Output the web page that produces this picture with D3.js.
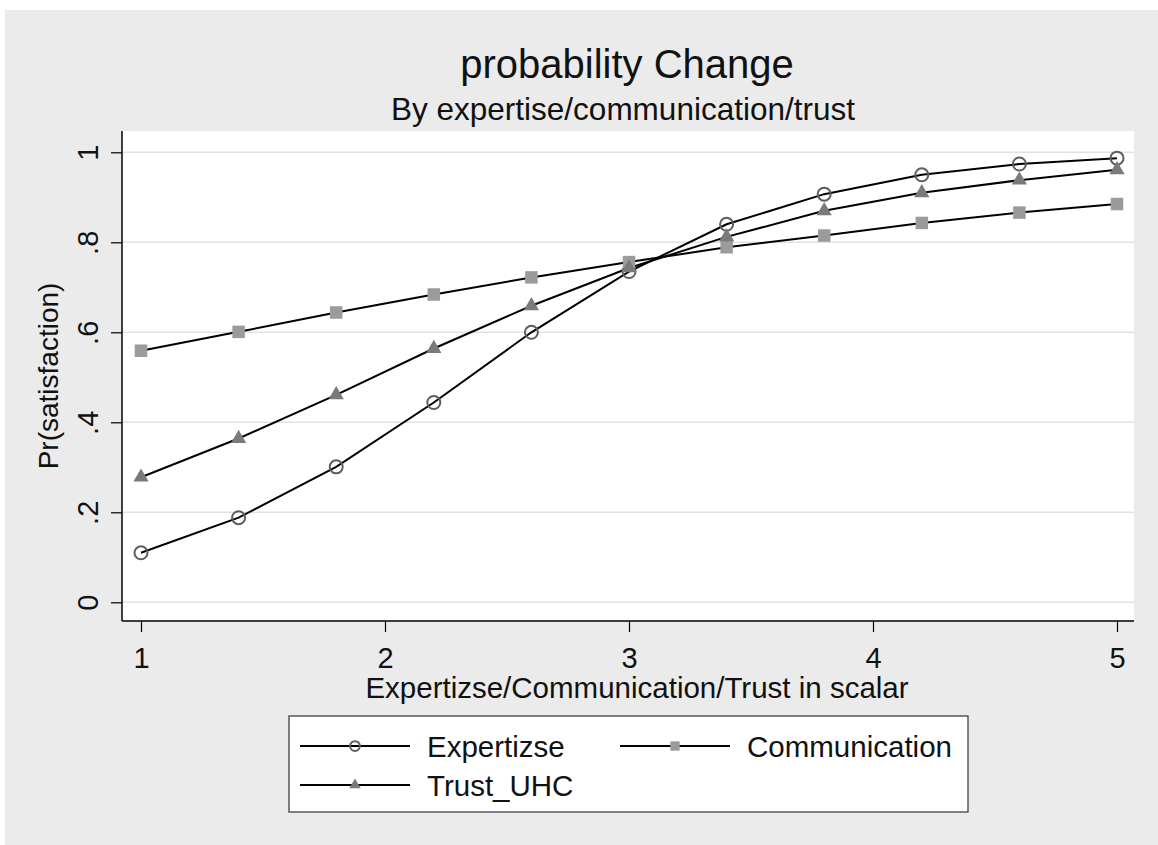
<!DOCTYPE html>
<html><head><meta charset="utf-8">
<script src="https://cdn.jsdelivr.net/npm/d3@7"></script>
<style>html,body{margin:0;padding:0;background:#fff;}svg{display:block;font-family:"Liberation Sans",Arial,sans-serif;}</style>
</head><body>
<script>
const xValues = [1, 1.4, 1.8, 2.2, 2.6, 3.0, 3.4, 3.8, 4.2, 4.6, 5.0];
const expertise = [0.110, 0.188, 0.301, 0.444, 0.600, 0.735, 0.840, 0.907, 0.950, 0.974, 0.987];
const communication = [0.559, 0.601, 0.644, 0.684, 0.722, 0.756, 0.789, 0.815, 0.843, 0.866, 0.885];
const trust = [0.278, 0.364, 0.461, 0.564, 0.659, 0.743, 0.812, 0.870, 0.910, 0.938, 0.961];
const xTicks = [1, 2, 3, 4, 5];
const yTicks = [0, 0.2, 0.4, 0.6, 0.8, 1];
const yTickLabels = ["0", ".2", ".4", ".6", ".8", "1"];
const seriesNames = ["Expertizse", "Communication", "Trust_UHC"];

const W = 1158, H = 845;
const svg = d3.select("body").append("svg").attr("width", W).attr("height", H);
svg.append("rect").attr("width", W).attr("height", H).attr("fill", "#fff");
svg.append("rect").attr("x", 5).attr("y", 10).attr("width", W - 5).attr("height", H - 10).attr("fill", "#ebebeb");

const plot = {l: 122, r: 1134, t: 131, b: 621};
svg.append("rect").attr("x", plot.l).attr("y", plot.t).attr("width", plot.r - plot.l).attr("height", plot.b - plot.t).attr("fill", "#fff");

const x = d3.scaleLinear().domain([1, 5]).range([141, 1117]);
const y = d3.scaleLinear().domain([0, 1]).range([602.3, 152.3]);

// grid
svg.append("g").selectAll("line").data(yTicks).join("line")
  .attr("x1", plot.l).attr("x2", plot.r)
  .attr("y1", d => y(d)).attr("y2", d => y(d))
  .attr("stroke", "#e2e2e2").attr("stroke-width", 1.5);

const FONT = "Liberation Sans, Arial, sans-serif";

// y axis
const yAxis = svg.append("g").attr("transform", `translate(${plot.l},0)`)
  .call(d3.axisLeft(y).tickValues(yTicks).tickSize(11).tickFormat((d, i) => yTickLabels[i]));
yAxis.select(".domain").attr("d", `M0,${plot.t}V${plot.b}`).attr("stroke", "#000").attr("stroke-width", 1.5);
yAxis.selectAll(".tick line").attr("stroke", "#000").attr("stroke-width", 1.2);
yAxis.selectAll(".tick text")
  .attr("x", 0).attr("y", 0).attr("dy", 0)
  .attr("transform", "translate(-32,0) rotate(-90)")
  .attr("text-anchor", "middle").attr("dominant-baseline", "middle")
  .attr("font-size", 29).attr("fill", "#111").attr("font-family", FONT);

// x axis
const xAxis = svg.append("g").attr("transform", `translate(0,${plot.b})`)
  .call(d3.axisBottom(x).tickValues(xTicks).tickSize(11).tickFormat(d3.format("d")));
xAxis.select(".domain").attr("d", `M${plot.l},0H${plot.r}`).attr("stroke", "#000").attr("stroke-width", 1.5);
xAxis.selectAll(".tick line").attr("stroke", "#000").attr("stroke-width", 1.2);
xAxis.selectAll(".tick text").attr("y", 47).attr("dy", 0)
  .attr("font-size", 29).attr("fill", "#111").attr("font-family", FONT);

// titles
svg.append("text").attr("x", 627).attr("y", 78).attr("text-anchor", "middle")
  .attr("font-size", 40).attr("fill", "#111").text("probability Change");
svg.append("text").attr("x", 623).attr("y", 120).attr("text-anchor", "middle")
  .attr("font-size", 31.5).attr("fill", "#111").text("By expertise/communication/trust");
svg.append("text").attr("x", 637).attr("y", 698).attr("text-anchor", "middle")
  .attr("font-size", 29.5).attr("fill", "#111").text("Expertizse/Communication/Trust in scalar");
svg.append("text").attr("transform", "translate(58,376) rotate(-90)").attr("text-anchor", "middle")
  .attr("font-size", 28).attr("fill", "#111").text("Pr(satisfaction)");

// series
const series = [
  {name: seriesNames[0], vals: expertise, type: "circle"},
  {name: seriesNames[1], vals: communication, type: "square"},
  {name: seriesNames[2], vals: trust, type: "triangle"}
];
const line = d3.line().x(d => x(d[0])).y(d => y(d[1])).curve(d3.curveLinear);

function drawMarker(g, type, cx, cy, scale) {
  scale = scale || 1;
  if (type === "circle") {
    g.append("circle").attr("cx", cx).attr("cy", cy).attr("r", 6.5 * scale)
      .attr("fill", "none").attr("stroke", "#5e5e5e").attr("stroke-width", 2);
  } else if (type === "square") {
    const s = 12.5 * scale;
    g.append("rect").attr("x", cx - s / 2).attr("y", cy - s / 2).attr("width", s).attr("height", s)
      .attr("fill", "#9b9b9b");
  } else {
    g.append("path").attr("transform", `translate(${cx},${cy})`)
      .attr("d", d3.symbol().type(d3.symbolTriangle).size(100 * scale * scale)())
      .attr("fill", "#7a7a7a");
  }
}

series.forEach(s => {
  const pts = xValues.map((xv, i) => [xv, s.vals[i]]);
  svg.append("path").attr("d", line(pts)).attr("fill", "none").attr("stroke", "#000").attr("stroke-width", 2);
});
series.forEach(s => {
  const g = svg.append("g");
  xValues.forEach((xv, i) => drawMarker(g, s.type, x(xv), y(s.vals[i])));
});

// legend
svg.append("rect").attr("x", 289).attr("y", 716).attr("width", 679).attr("height", 96)
  .attr("fill", "#fff").attr("stroke", "#333").attr("stroke-width", 1.2);
const legendItems = [
  {s: series[0], lx: 300, ly: 746},
  {s: series[1], lx: 620, ly: 746},
  {s: series[2], lx: 300, ly: 785}
];
legendItems.forEach(it => {
  const g = svg.append("g");
  g.append("line").attr("x1", it.lx).attr("x2", it.lx + 110).attr("y1", it.ly).attr("y2", it.ly)
    .attr("stroke", "#000").attr("stroke-width", 2);
  drawMarker(g, it.s.type, it.lx + 55, it.ly, 0.75);
  g.append("text").attr("x", it.lx + 127).attr("y", it.ly + 11)
    .attr("font-size", 29.5).attr("fill", "#111").text(it.s.name);
});
</script>
</body></html>
